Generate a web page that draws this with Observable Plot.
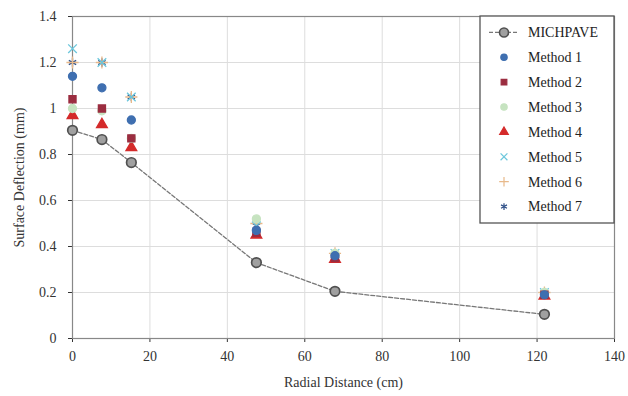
<!DOCTYPE html>
<html>
<head>
<meta charset="utf-8">
<script src="https://cdn.jsdelivr.net/npm/d3@7"></script>
<script src="https://cdn.jsdelivr.net/npm/@observablehq/plot@0.6"></script>
<style>
  html, body { margin: 0; padding: 0; background: #fff; }
  #chart { width: 628px; height: 396px; position: relative; }
</style>
</head>
<body>
<div id="chart"></div>
<script>
// ---- data ----
const distances = [0, 7.6, 15.2, 47.5, 67.8, 121.9];
const michpave  = [0.905, 0.865, 0.765, 0.33, 0.205, 0.105];
const method1 = [1.14, 1.09, 0.95, 0.47, 0.36, 0.19];
const method2 = [1.04, 1.00, 0.87, 0.46, 0.35, 0.19];
const method3 = [1.00, 0.99, 0.87, 0.52, 0.37, 0.20];
const method4 = [0.97, 0.93, 0.83, 0.45, 0.345, 0.185];
const method5 = [1.26, 1.20, 1.05, 0.49, 0.37, 0.20];
const method6 = [1.20, 1.20, 1.05, 0.50, 0.37, 0.20];
const method7 = [1.20, 1.20, 1.05, 0.49, 0.36, 0.20];
const methodNames = ["Method 1","Method 2","Method 3","Method 4","Method 5","Method 6","Method 7"];
const methodValues = [method1, method2, method3, method4, method5, method6, method7];
const methodColors = ["#3f6fb0","#9b2d40","#c6e3c0","#d42a2a","#6cc7dc","#e8b98a","#2d4e86"];
const methodSymbols = ["circle","square","circle","triangle","times","plus","asterisk"];
const xTicks = [0,20,40,60,80,100,120,140];
const yTicks = [0,0.2,0.4,0.6,0.8,1.0,1.2,1.4];

const mich = distances.map((d,i)=>({x:d, y:michpave[i]}));
const pts = [];
methodNames.forEach((m,k)=>distances.forEach((d,i)=>pts.push({x:d,y:methodValues[k][i],m})));

const FONT = '"Liberation Serif", "DejaVu Serif", serif';
const W = 628, H = 396;
const mL = 72, mR = 14, mT = 16, mB = 58;

const plot = Plot.plot({
  width: W, height: H,
  marginLeft: mL, marginRight: mR, marginTop: mT, marginBottom: mB,
  style: {fontFamily: FONT, fontSize: "14px", color: "#333", background: "#fff"},
  x: {domain:[0,140], ticks: xTicks, tickSize: 4, tickPadding: 9, label: "Radial Distance (cm)", labelAnchor:"center", labelArrow: "none", labelOffset: 48},
  y: {domain:[0,1.4], ticks: yTicks, tickSize: 4, tickPadding: 12, tickFormat: d=>String(+d.toFixed(1)), label: "Surface Deflection (mm)", labelAnchor:"center", labelArrow:"none", labelOffset: 58},
  symbol: {domain: methodNames, range: methodSymbols},
  color: {domain: methodNames, range: methodColors},
  marks: [
    Plot.gridX(xTicks, {stroke:"#ddd", strokeOpacity:1}),
    Plot.gridY(yTicks, {stroke:"#ddd", strokeOpacity:1}),
    Plot.frame({stroke:"#888", strokeWidth:1.2}),
    Plot.line(mich, {x:"x", y:"y", stroke:"#777", strokeWidth:1.3, strokeDasharray:"4,2"}),
    Plot.dot(pts.slice().reverse(), {x:"x", y:"y", symbol:"m", fill:"m", stroke:"m", strokeWidth:1.3, r:4}),
    Plot.dot(mich, {x:"x", y:"y", r:4.8, fill:"#a0a0a0", stroke:"#505050", strokeWidth:1.7}),
  ]
});
document.getElementById("chart").appendChild(plot);
plot.querySelectorAll("text").forEach(t => t.style.fontFamily = FONT);

// ---- legend inside plot (top-right) ----
const svg = d3.select(plot);
const lx0 = 480, ly0 = mT, lw = W - mR - lx0, lh = 207;
const leg = svg.append("g").attr("text-anchor","start");
leg.append("rect").attr("x",lx0).attr("y",ly0).attr("width",lw).attr("height",lh)
  .attr("fill","#fff").attr("stroke","#555").attr("stroke-width",1.3);
const names = ["MICHPAVE", ...methodNames];
const rowH = (lh - 8) / names.length;
names.forEach((n,i)=>{
  const cy = ly0 + 4 + rowH*(i+0.5);
  const sx = lx0 + 24;
  if (i===0) {
    leg.append("line").attr("x1",sx-15).attr("x2",sx+15).attr("y1",cy).attr("y2",cy)
      .attr("stroke","#777").attr("stroke-width",1.3).attr("stroke-dasharray","4,2");
    leg.append("circle").attr("cx",sx).attr("cy",cy).attr("r",4.5)
      .attr("fill","#a0a0a0").attr("stroke","#505050").attr("stroke-width",1.6);
  } else {
    const k = i-1;
    const sym = {circle:d3.symbolCircle, square:d3.symbolSquare, triangle:d3.symbolTriangle, times:d3.symbolTimes, plus:d3.symbolPlus, asterisk:d3.symbolAsterisk}[methodSymbols[k]];
    leg.append("path").attr("transform",`translate(${sx},${cy})`)
      .attr("d", d3.symbol(sym, Math.PI*3.2*3.2)())
      .attr("fill", methodColors[k]).attr("stroke", methodColors[k]).attr("stroke-width",1.2);
  }
  leg.append("text").attr("x", lx0+48).attr("y", cy).attr("dy","0.35em")
    .attr("text-anchor","start").attr("font-size", 14).attr("fill","#222")
    .style("font-family", FONT).text(n);
});
</script>
</body>
</html>
